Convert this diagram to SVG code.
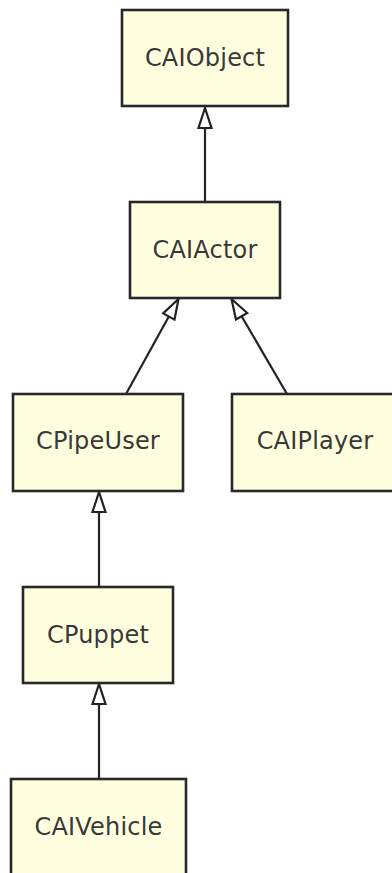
<svg xmlns="http://www.w3.org/2000/svg" width="392" height="873" viewBox="0 0 392 873">
<style>
.box{fill:#ffffdf;stroke:#282828;stroke-width:2.6}
.lbl{font-family:"DejaVu Sans",Verdana,sans-serif;font-size:24px;fill:#383838;text-anchor:middle;letter-spacing:0.2px}
.edge{stroke:#222;stroke-width:2.2;fill:none;marker-end:url(#tri)}
</style>
<defs>
<marker id="tri" markerUnits="userSpaceOnUse" viewBox="-24 -9 26 18" refX="0" refY="0" markerWidth="26" markerHeight="18" orient="auto">
<path d="M0,0 L-20,-6.5 L-20,6.5 Z" fill="#fff" stroke="#222" stroke-width="2.2" stroke-linejoin="miter"/>
</marker>
</defs>
<rect width="392" height="873" fill="#fff"/>
<g id="connectors">
<line class="edge" x1="205" y1="202" x2="205" y2="108"/>
<line class="edge" x1="126" y1="394" x2="178.5" y2="299"/>
<line class="edge" x1="287" y1="394" x2="231.5" y2="299"/>
<line class="edge" x1="99" y1="587" x2="99" y2="492"/>
<line class="edge" x1="99" y1="779" x2="99" y2="684"/>
</g>
<g id="CAIObject"><rect class="box" x="122" y="10" width="166" height="96"/><text class="lbl" x="205" y="66">CAIObject</text></g>
<g id="CAIActor"><rect class="box" x="130" y="202" width="150" height="96"/><text class="lbl" x="205" y="258">CAIActor</text></g>
<g id="CPipeUser"><rect class="box" x="13" y="394" width="170" height="97"/><text class="lbl" x="98" y="449">CPipeUser</text></g>
<g id="CAIPlayer"><rect class="box" x="232" y="394" width="170" height="97"/><text class="lbl" x="315" y="449">CAIPlayer</text></g>
<g id="CPuppet"><rect class="box" x="23" y="587" width="150" height="96"/><text class="lbl" x="98" y="643">CPuppet</text></g>
<g id="CAIVehicle"><rect class="box" x="11" y="779" width="175" height="110"/><text class="lbl" x="98.5" y="835">CAIVehicle</text></g>
</svg>
